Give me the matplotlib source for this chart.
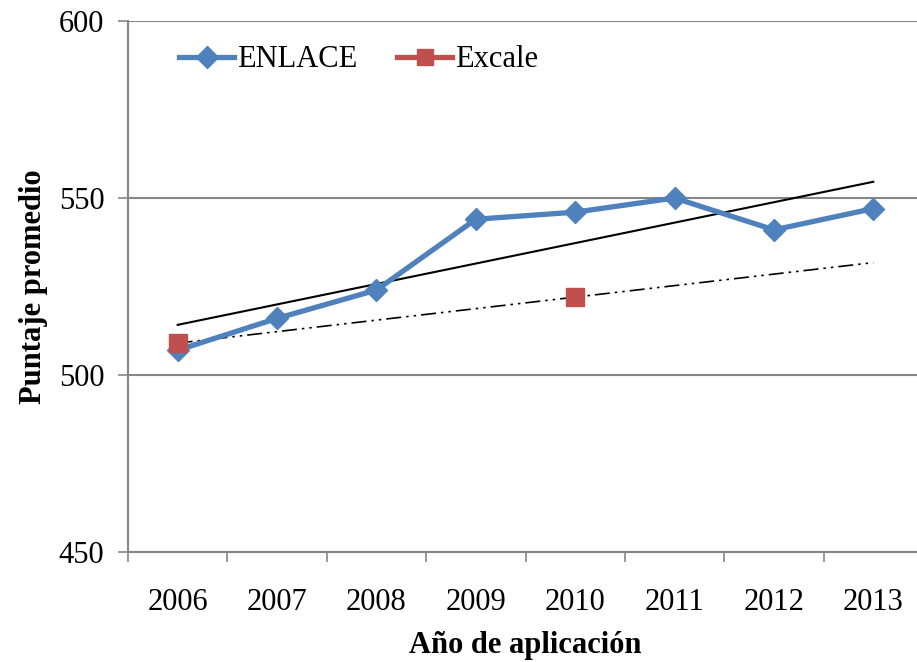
import matplotlib
matplotlib.use("Agg")

import matplotlib.pyplot as plt
from matplotlib.lines import Line2D
import numpy as np

# -------------------------
# Data
# -------------------------
years = ["2006", "2007", "2008", "2009", "2010", "2011", "2012", "2013"]
enlace = [507, 516, 524, 544, 546, 550, 541, 547]
excale_years = ["2006", "2010"]
excale = [509, 522]

BLUE = "#4F81BD"
RED = "#C0504D"
GRID = "#868686"

plt.rcParams['font.family'] = ['Liberation Serif', 'DejaVu Serif']

fig = plt.figure(figsize=(9.17, 6.62), dpi=100)
ax = fig.add_axes([128 / 917, 110 / 662, 795 / 917, 531 / 662])

x = np.arange(len(years))
x_exc = np.array([years.index(y) for y in excale_years])

# trend lines (linear fit over each series)
p1 = np.polyfit(x, enlace, 1)
ax.plot([x[0], x[-1]], np.polyval(p1, [x[0], x[-1]]), color="black", lw=1.5, zorder=2)
p2 = np.polyfit(x_exc, excale, 1)
ax.plot([x[0], x[-1]], np.polyval(p2, [x[0], x[-1]]), color="black", lw=1.2,
        dashes=(9, 3, 1.5, 3, 1.5, 3), zorder=2)

ax.plot(x, enlace, color=BLUE, lw=3.8, marker="D", ms=11, zorder=3)
ax.plot(x_exc, excale, color=RED, marker="s", ms=13, linestyle="none", zorder=4)

ax.set_xlim(-0.5, len(years) - 0.5)
ax.set_ylim(450, 600)
ax.set_yticks([450, 500, 550, 600])
ax.set_xticks(x)
ax.set_xticklabels(years)
ax.set_xticks(np.arange(-0.5, len(years), 1.0), minor=True)

ax.grid(axis="y", color=GRID, lw=1.5)
ax.set_axisbelow(True)
for s in ["top", "right"]:
    ax.spines[s].set_visible(False)
for s in ["left", "bottom"]:
    ax.spines[s].set_color(GRID)
    ax.spines[s].set_linewidth(1.5)

ax.tick_params(axis="x", which="major", length=0, pad=26, labelsize=22)
ax.tick_params(axis="x", which="minor", length=7, width=1.2, color=GRID)
ax.tick_params(axis="y", length=7, width=1.2, color=GRID, pad=10, labelsize=22)

ax.set_xlabel("Año de aplicación", fontsize=22, fontweight="bold", labelpad=10)
ax.set_ylabel("Puntaje promedio", fontsize=22, fontweight="bold", labelpad=8)

handles = [
    Line2D([], [], color=BLUE, lw=3.8, marker="D", ms=11),
    Line2D([], [], color=RED, lw=3.8, marker="s", ms=12),
]
leg = ax.legend(handles, ["ENLACE", "Excale"], loc="upper left",
                bbox_to_anchor=(0.03, 1.006), ncol=2, frameon=False,
                fontsize=22, handlelength=1.8, handletextpad=0.1, columnspacing=1.3)

fig.savefig("out.png", dpi=100)
